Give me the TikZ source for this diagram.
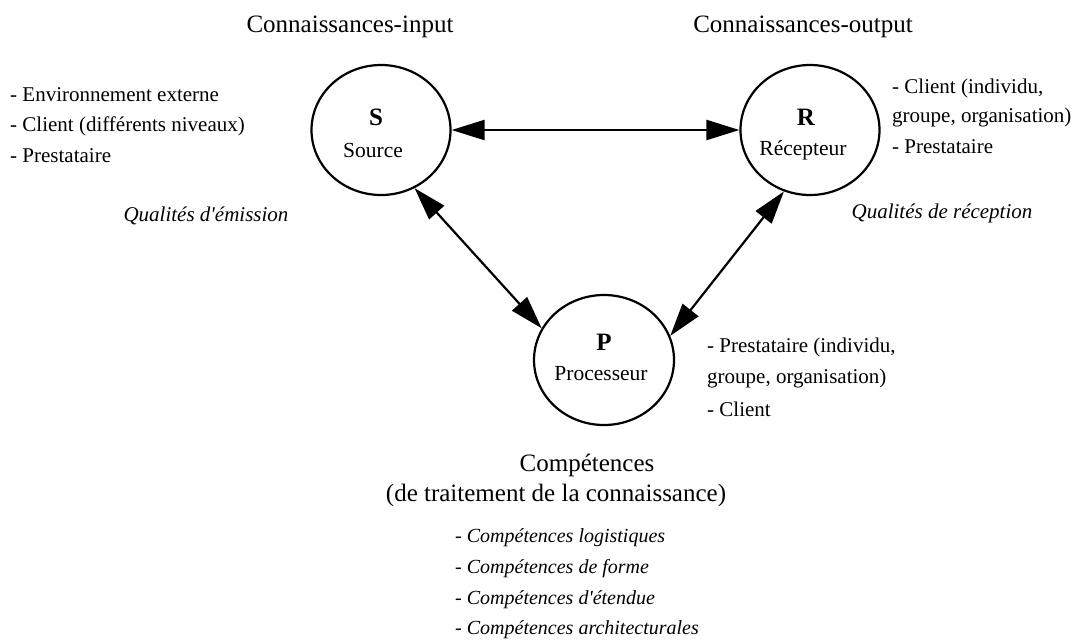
\documentclass[tikz,border=0pt]{standalone}
\usepackage{fontspec}
\setmainfont{Liberation Serif}
\usetikzlibrary{arrows.meta,shapes.geometric}
\begin{document}
\begin{tikzpicture}[x=1pt,y=-1pt,
  circ/.style={draw,line width=2.2pt,ellipse,minimum width=139pt,minimum height=130pt,inner sep=0pt},
  link/.style={line width=2.2pt,{Triangle[length=33pt,width=20pt]}-{Triangle[length=33pt,width=20pt]}},
  letter/.style={font=\fontsize{25}{28}\selectfont\bfseries},
  cname/.style={font=\fontsize{21.5}{24}\selectfont},
  ttl/.style={font=\fontsize{25}{28}\selectfont},
  lst/.style={font=\fontsize{21}{30}\selectfont,align=left,anchor=west,inner sep=0pt},
  ilst/.style={font=\fontsize{20}{30}\selectfont\itshape,align=left,anchor=west,inner sep=0pt},
  qual/.style={font=\fontsize{21}{24}\selectfont\itshape}
]
\useasboundingbox (0,0) rectangle (1090,641);
\node[circ] (S) at (381,130) {};
\node[circ] (R) at (810,130) {};
\node[circ,minimum width=140pt] (P) at (604,360) {};
\node[letter] (Sl) at (376,117) {S};
\node[cname] (Sn) at (373,150) {Source};
\node[letter] (Rl) at (806,117) {R};
\node[cname] (Rn) at (803,150) {Récepteur};
\node[letter] (Pl) at (604,342) {P};
\node[cname] (Pn) at (601,374) {Processeur};
\draw[link] (S.east) -- (R.west);
\draw[link] (S.-60) -- (P.153);
\draw[link] (R.-113) -- (P.20);
\node[ttl] (ti) at (350,27) {Connaissances-input};
\node[ttl] (to) at (803,27) {Connaissances-output};
\node[lst] (ls1) at (10,95) {- Environnement externe};
\node[lst] (ls2) at (10,126) {- Client (différents niveaux)};
\node[lst] (ls3) at (10,156) {- Prestataire};
\node[lst] (lr1) at (892,88) {- Client (individu,};
\node[lst] (lr2) at (892,117) {groupe, organisation)};
\node[lst] (lr3) at (892,147) {- Prestataire};
\node[lst] (lp1) at (707,347) {- Prestataire (individu,};
\node[lst] (lp2) at (707,378) {groupe, organisation)};
\node[lst] (lp3) at (707,409) {- Client};
\node[qual] (qs) at (206,216) {Qualités d\textquotesingle émission};
\node[qual] (qr) at (942,213) {Qualités de réception};
\node[ttl] (cp) at (587,465) {Compétences};
\node[ttl] (cp2) at (556,495) {(de traitement de la connaissance)};
\node[ilst] (c1) at (455,538) {- Compétences logistiques};
\node[ilst] (c2) at (455,569) {- Compétences de forme};
\node[ilst] (c3) at (455,600) {- Compétences d\textquotesingle étendue};
\node[ilst] (c4) at (455,630) {- Compétences architecturales};
\end{tikzpicture}
\end{document}
